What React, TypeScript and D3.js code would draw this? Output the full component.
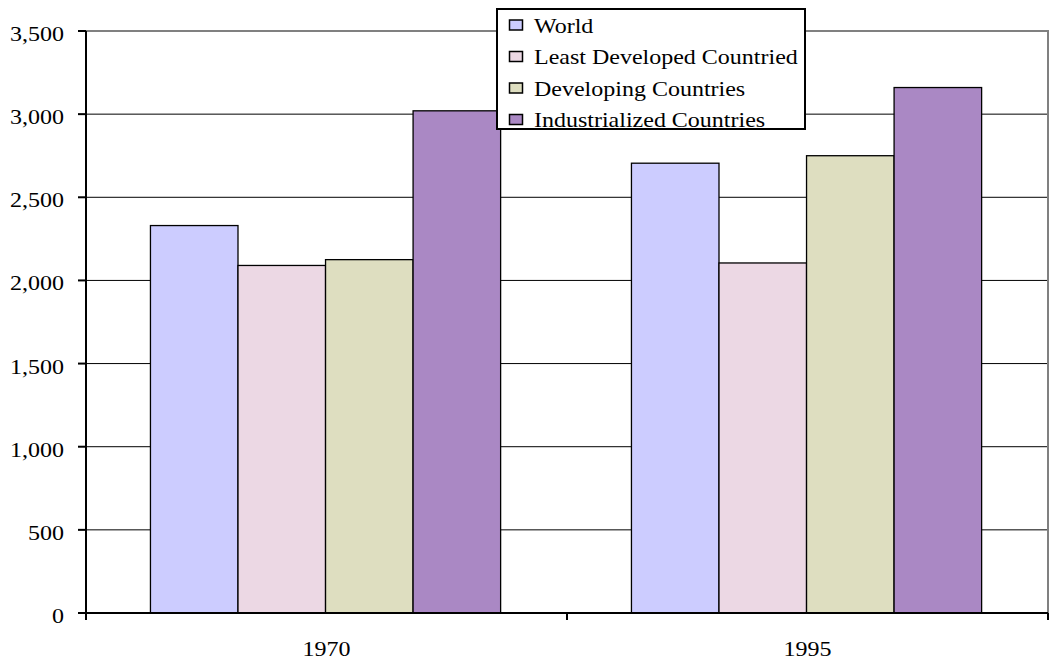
import React, { useEffect, useRef } from 'react';
import * as d3 from 'd3';

const categories = ['1970', '1995'];
const seriesNames = ['World', 'Least Developed Countried', 'Developing Countries', 'Industrialized Countries'];
const world = [2330, 2705];
const leastDeveloped = [2090, 2105];
const developing = [2125, 2750];
const industrialized = [3020, 3160];
const yTicks = [0, 500, 1000, 1500, 2000, 2500, 3000, 3500];

const colors = ['#CCCCFF', '#ECD8E4', '#DEDEC0', '#AA88C4'];
const seriesValues = [world, leastDeveloped, developing, industrialized];

const FONT = '"Liberation Serif", "Times New Roman", serif';
const STRETCH = 1.2; // the reference text is horizontally stretched

export default function App() {
  const ref = useRef<SVGSVGElement>(null);

  useEffect(() => {
    if (!ref.current) return;
    const svg = d3.select(ref.current);
    svg.selectAll('*').remove();

    const width = 1055;
    const height = 660;
    const margin = { top: 31, right: 7, bottom: 47, left: 86 };
    const innerWidth = width - margin.left - margin.right;
    const innerHeight = height - margin.top - margin.bottom;

    const g = svg.append('g').attr('transform', `translate(${margin.left},${margin.top})`);

    const x0 = d3.scaleBand<string>().domain(categories).range([0, innerWidth]);
    const bw = x0.bandwidth();
    const x1 = d3
      .scaleBand<string>()
      .domain(seriesNames)
      .range([bw * 0.134, bw * 0.862]);
    const y = d3.scaleLinear().domain([0, 3500]).range([innerHeight, 0]);

    // Gridlines
    g.selectAll('.grid')
      .data(yTicks.filter((t) => t > 0 && t < 3500))
      .enter()
      .append('line')
      .attr('x1', 0)
      .attr('x2', innerWidth)
      .attr('y1', (d) => y(d))
      .attr('y2', (d) => y(d))
      .attr('stroke', '#000')
      .attr('stroke-width', 1);

    // Plot border (top + right, grey)
    g.append('path')
      .attr('d', `M0,${y(3500)}H${innerWidth}V${y(0)}`)
      .attr('fill', 'none')
      .attr('stroke', '#808080')
      .attr('stroke-width', 2);

    // Bars
    const rows = categories.flatMap((c, ci) =>
      seriesNames.map((s, si) => ({ cat: c, series: s, value: seriesValues[si][ci], color: colors[si] }))
    );
    g.selectAll('.bar')
      .data(rows)
      .enter()
      .append('rect')
      .attr('x', (d) => x0(d.cat)! + x1(d.series)!)
      .attr('y', (d) => y(d.value))
      .attr('width', x1.bandwidth())
      .attr('height', (d) => y(0) - y(d.value))
      .attr('fill', (d) => d.color)
      .attr('stroke', '#000')
      .attr('stroke-width', 1.3);

    // Y axis
    g.append('line')
      .attr('x1', 0)
      .attr('x2', 0)
      .attr('y1', y(3500))
      .attr('y2', y(0))
      .attr('stroke', '#000')
      .attr('stroke-width', 2);
    g.selectAll('.ytick')
      .data(yTicks)
      .enter()
      .append('line')
      .attr('x1', -8)
      .attr('x2', 0)
      .attr('y1', (d) => y(d))
      .attr('y2', (d) => y(d))
      .attr('stroke', '#000')
      .attr('stroke-width', 2);
    g.selectAll('.ylabel')
      .data(yTicks)
      .enter()
      .append('text')
      .attr('transform', (d) => `translate(-22,${y(d) + 10}) scale(${STRETCH},1)`)
      .attr('text-anchor', 'end')
      .attr('font-family', FONT)
      .attr('font-size', 20)
      .attr('fill', '#000')
      .text((d) => d3.format(',')(d));

    // X axis
    g.append('line')
      .attr('x1', 0)
      .attr('x2', innerWidth)
      .attr('y1', y(0))
      .attr('y2', y(0))
      .attr('stroke', '#000')
      .attr('stroke-width', 2);
    const xTickPos = [0, ...categories.map((c) => x0(c)! + bw)];
    g.selectAll('.xtick')
      .data(xTickPos)
      .enter()
      .append('line')
      .attr('x1', (d) => d)
      .attr('x2', (d) => d)
      .attr('y1', y(0))
      .attr('y2', y(0) + 7)
      .attr('stroke', '#000')
      .attr('stroke-width', 2);
    g.selectAll('.xlabel')
      .data(categories)
      .enter()
      .append('text')
      .attr('transform', (d) => `translate(${x0(d)! + bw / 2},${y(0) + 43}) scale(${STRETCH},1)`)
      .attr('text-anchor', 'middle')
      .attr('font-family', FONT)
      .attr('font-size', 20)
      .attr('fill', '#000')
      .text((d) => d);

    // Legend
    const legend = svg.append('g').attr('transform', 'translate(497,9)');
    legend
      .append('rect')
      .attr('width', 308)
      .attr('height', 120)
      .attr('fill', '#fff')
      .attr('stroke', '#000')
      .attr('stroke-width', 2);
    const item = legend
      .selectAll('.item')
      .data(seriesNames)
      .enter()
      .append('g')
      .attr('transform', (_, i) => `translate(0,${16 + i * 31.5})`);
    item
      .append('rect')
      .attr('x', 12.5)
      .attr('y', -5)
      .attr('width', 13)
      .attr('height', 10)
      .attr('fill', (_, i) => colors[i])
      .attr('stroke', '#000')
      .attr('stroke-width', 1.5);
    item
      .append('text')
      .attr('transform', `translate(37,7.5) scale(${STRETCH},1)`)
      .attr('font-family', FONT)
      .attr('font-size', 20)
      .attr('fill', '#000')
      .text((d) => d);
  }, []);

  return (
    <svg
      ref={ref}
      width={1055}
      height={660}
      style={{ position: 'absolute', left: 0, top: 0, background: '#fff' }}
    />
  );
}
